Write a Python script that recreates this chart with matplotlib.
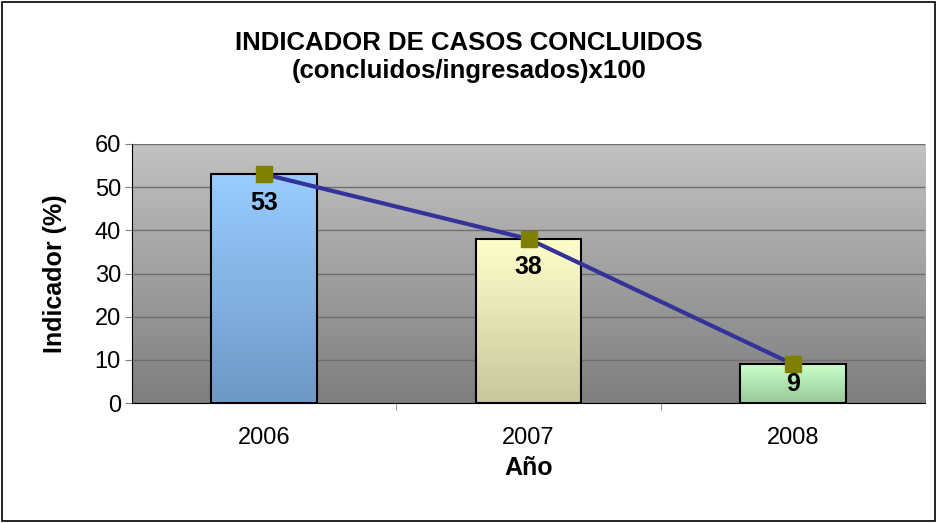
import numpy as np
import matplotlib; matplotlib.use("Agg")
import matplotlib.pyplot as plt
from matplotlib.colors import LinearSegmentedColormap
from matplotlib.patches import Rectangle

plt.rcParams['font.family'] = ['Liberation Sans', 'DejaVu Sans']

years = ["2006", "2007", "2008"]
values = [53, 38, 9]
bar_tops = ["#99ccff", "#ffffcc", "#ccffcc"]
bar_bottoms = ["#6e98c6", "#c8c69c", "#98c898"]

fig = plt.figure(figsize=(9.38, 5.23), dpi=100)
ax = fig.add_axes([132 / 938, 1 - 403 / 523, (925 - 132) / 938, (403 - 144) / 523])
x = np.arange(len(years))
ax.set_xlim(-0.5, 2.5)
ax.set_ylim(0, 60)

# gradient background of plot area (light at top, dark at bottom)
grad = np.linspace(0, 1, 256).reshape(-1, 1)
bg = LinearSegmentedColormap.from_list("bg", ["#c2c2c2", "#7e7e7e"])
ax.imshow(grad, cmap=bg, aspect="auto", extent=[-0.5, 2.5, 0, 60], zorder=0)

ax.set_yticks(range(0, 61, 10))
ax.grid(axis="y", color="#6e6e6e", lw=1, zorder=1)

bars = ax.bar(x, values, width=0.4, facecolor="none", edgecolor="black", lw=1.5, zorder=3)
for b, top, bot in zip(bars, bar_tops, bar_bottoms):
    x0, y0, w, h = b.get_x(), b.get_y(), b.get_width(), b.get_height()
    cm = LinearSegmentedColormap.from_list("b", [top, bot])
    ax.imshow(grad, cmap=cm, aspect="auto", extent=[x0, x0 + w, y0, y0 + h], zorder=2)
    ax.text(x0 + w / 2, y0 + h - min(6.6, h / 2), f"{h:g}", ha="center", va="center",
            fontsize=18, fontweight="bold", zorder=5)

ax.plot(x, values, color="#333399", lw=3, marker="s", ms=11.5,
        mfc="#808000", mec="#808000", zorder=4)

ax.set_xticks(x)
ax.set_xticklabels(years)
ax.set_xticks([0.5, 1.5], minor=True)
ax.tick_params(axis="x", which="major", length=0, labelsize=17, pad=17)
ax.tick_params(axis="x", which="minor", length=5, color="#808080")
ax.tick_params(axis="y", labelsize=17, length=5, color="#808080", pad=3)
for s in ["top", "right"]:
    ax.spines[s].set_visible(False)
ax.spines["left"].set_color("black")
ax.spines["bottom"].set_color("black")

ax.set_xlabel("Año", fontsize=18, fontweight="bold", labelpad=5)
ax.set_ylabel("Indicador (%)", fontsize=18, fontweight="bold", labelpad=20)

fig.text(0.5, 1 - 57 / 523, "INDICADOR DE CASOS CONCLUIDOS\n(concluidos/ingresados)x100",
         ha="center", va="center", fontsize=18.5, fontweight="bold", linespacing=1.25)

fig.add_artist(Rectangle((0.002, 0.003), 0.995, 0.994, transform=fig.transFigure,
                         fill=False, edgecolor="black", lw=1.2))

fig.savefig("out.png", dpi=100)
